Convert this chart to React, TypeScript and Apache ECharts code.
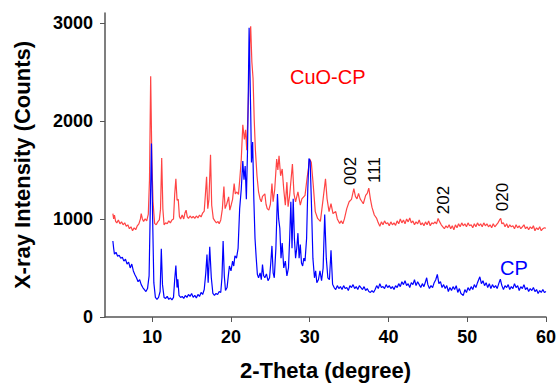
import React, { useEffect, useRef } from "react";
import * as echarts from "echarts";

const xTicks = [10, 20, 30, 40, 50, 60];
const yTicks = [0, 1000, 2000, 3000];

const cpData: [number, number][] = [
  [5.0,775],[5.1,700],[5.2,640],[5.4,660],[5.6,620],[5.8,630],[6.0,600],[6.2,610],[6.4,570],[6.6,590],[6.8,540],[7.0,560],[7.2,500],[7.4,540],[7.6,470],[7.8,430],[8.0,400],[8.2,360],[8.4,380],[8.6,330],[8.8,300],[9.0,280],[9.2,260],[9.4,290],[9.6,420],[9.75,1100],[9.9,1770],[10.05,1000],[10.2,350],[10.4,200],[10.6,180],[10.8,200],[11.0,260],[11.15,695],[11.3,330],[11.5,200],[11.7,190],[11.9,210],[12.1,180],[12.3,195],[12.5,175],[12.7,200],[12.85,380],[13.0,525],[13.15,300],[13.25,385],[13.4,220],[13.6,200],[13.8,210],[14.0,190],[14.2,220],[14.4,200],[14.6,230],[14.8,210],[15.0,240],[15.2,200],[15.4,220],[15.6,195],[15.8,230],[16.0,210],[16.2,250],[16.4,230],[16.6,280],[16.8,450],[16.95,637],[17.1,350],[17.3,715],[17.5,400],[17.7,240],[17.9,220],[18.1,240],[18.3,230],[18.5,260],[18.7,250],[18.85,400],[19.0,775],[19.15,420],[19.3,270],[19.5,300],[19.7,450],[19.8,520],[20.0,470],[20.2,570],[20.35,520],[20.5,625],[20.7,600],[20.9,700],[21.1,1105],[21.3,1300],[21.5,1590],[21.65,1400],[21.8,1540],[21.95,1200],[22.1,1700],[22.3,2950],[22.5,2100],[22.6,1575],[22.75,1785],[22.9,1200],[23.05,800],[23.2,605],[23.35,435],[23.5,400],[23.7,450],[23.85,380],[24.0,535],[24.15,420],[24.3,400],[24.5,440],[24.7,370],[24.9,400],[25.05,550],[25.2,725],[25.35,450],[25.5,400],[25.7,700],[25.9,1255],[26.05,1000],[26.2,905],[26.35,600],[26.5,755],[26.7,500],[26.9,570],[27.1,420],[27.3,500],[27.45,800],[27.6,1175],[27.75,700],[27.9,1205],[28.05,800],[28.2,600],[28.35,700],[28.5,855],[28.65,600],[28.8,740],[28.95,550],[29.1,520],[29.25,600],[29.4,570],[29.6,800],[29.75,1300],[29.9,1615],[30.05,1590],[30.2,1200],[30.4,600],[30.6,400],[30.75,470],[30.9,350],[31.1,380],[31.3,470],[31.5,370],[31.7,500],[31.9,1045],[32.1,600],[32.3,400],[32.5,380],[32.7,680],[32.9,335],[33.1,300],[33.3,280],[33.5,320],[33.7,290],[33.9,310],[34.1,280],[34.3,320],[34.5,290],[34.7,300],[34.9,270],[35.1,320],[35.3,300],[35.5,330],[35.7,290],[35.9,310],[36.1,280],[36.3,320],[36.5,300],[36.7,280],[36.9,310],[37.1,270],[37.3,290],[37.5,260],[37.7,250],[37.9,270],[38.1,250],[38.3,280],[38.5,320],[38.7,290],[38.9,340],[39.1,300],[39.3,310],[39.5,290],[39.7,330],[39.9,300],[40.1,320],[40.3,290],[40.5,310],[40.7,280],[40.9,320],[41.1,300],[41.3,340],[41.5,310],[41.7,360],[41.9,330],[42.1,370],[42.3,320],[42.5,340],[42.7,300],[42.9,350],[43.1,330],[43.3,380],[43.5,320],[43.7,360],[43.9,330],[44.1,300],[44.3,340],[44.5,310],[44.7,360],[44.85,400],[45.0,330],[45.2,290],[45.4,320],[45.6,300],[45.8,350],[46.0,380],[46.2,435],[46.4,340],[46.6,360],[46.8,300],[47.0,330],[47.2,290],[47.4,320],[47.6,260],[47.8,300],[48.0,270],[48.2,310],[48.4,280],[48.6,320],[48.8,250],[49.0,290],[49.2,240],[49.5,220],[49.7,280],[49.9,250],[50.1,300],[50.3,270],[50.5,310],[50.7,280],[50.9,330],[51.1,300],[51.3,350],[51.6,410],[51.8,340],[52.0,370],[52.2,320],[52.4,350],[52.6,300],[52.8,340],[53.0,290],[53.2,330],[53.4,300],[53.6,320],[53.8,290],[54.0,340],[54.2,385],[54.4,320],[54.6,280],[54.8,320],[55.0,300],[55.2,330],[55.4,280],[55.6,310],[55.8,290],[56.0,340],[56.2,300],[56.4,320],[56.6,270],[56.8,310],[57.0,290],[57.2,330],[57.4,280],[57.6,300],[57.8,260],[58.0,290],[58.2,270],[58.4,300],[58.6,260],[58.8,280],[59.0,240],[59.2,270],[59.4,250],[59.6,280],[59.8,250],[60.0,260]
];

const cuoData: [number, number][] = [
  [5.0,1055],[5.1,1000],[5.2,1040],[5.35,975],[5.5,960],[5.7,990],[5.9,950],[6.1,970],[6.3,940],[6.5,960],[6.7,925],[6.9,940],[7.1,900],[7.3,920],[7.5,880],[7.7,910],[7.9,890],[8.1,930],[8.3,950],[8.5,1000],[8.6,1055],[8.75,1000],[8.9,975],[9.1,1000],[9.3,980],[9.5,1050],[9.65,1400],[9.8,2455],[9.95,1600],[10.1,1175],[10.3,955],[10.5,940],[10.7,970],[10.9,990],[11.05,1100],[11.2,1620],[11.35,1100],[11.5,940],[11.7,960],[11.9,950],[12.1,980],[12.3,960],[12.5,990],[12.7,1000],[12.85,1250],[13.0,1410],[13.15,1190],[13.3,1200],[13.45,1025],[13.6,1000],[13.8,1040],[14.0,1000],[14.15,1060],[14.3,1090],[14.45,1020],[14.6,1005],[14.8,1030],[15.0,1010],[15.2,1025],[15.4,1005],[15.6,1030],[15.8,1010],[16.0,1040],[16.2,1020],[16.4,1060],[16.6,1080],[16.75,1250],[16.9,1430],[17.05,1105],[17.2,1200],[17.4,1655],[17.55,1140],[17.75,1005],[17.95,980],[18.15,960],[18.35,975],[18.5,950],[18.7,990],[18.9,1100],[19.1,1330],[19.25,1105],[19.45,1150],[19.7,1225],[19.85,1090],[20.05,1150],[20.2,1200],[20.4,1360],[20.55,1255],[20.75,1275],[20.95,1250],[21.1,1390],[21.3,1600],[21.5,1960],[21.7,1810],[21.85,1910],[22.0,1700],[22.2,2200],[22.4,2800],[22.5,2965],[22.65,2600],[22.8,2435],[22.95,2010],[23.1,1700],[23.3,1440],[23.5,1275],[23.7,1200],[23.85,1175],[24.0,1230],[24.3,1255],[24.45,1150],[24.6,1105],[24.8,1090],[25.0,1150],[25.2,1360],[25.35,1175],[25.55,1300],[25.8,1610],[25.95,1500],[26.1,1645],[26.3,1440],[26.5,1510],[26.7,1300],[26.9,1140],[27.1,1375],[27.25,1125],[27.45,1240],[27.8,1560],[28.0,1255],[28.2,1175],[28.5,1275],[28.8,1140],[29.0,1205],[29.4,1240],[29.65,1410],[30.0,1610],[30.2,1575],[30.45,1340],[30.7,1075],[31.0,1005],[31.35,975],[31.7,1205],[32.0,1410],[32.2,1205],[32.45,1075],[32.7,1155],[32.95,1055],[33.3,1075],[33.5,1000],[33.8,955],[34.0,980],[34.2,950],[34.4,1000],[34.7,1105],[35.0,1175],[35.3,1200],[35.6,1310],[35.8,1230],[36.0,1205],[36.2,1260],[36.4,1205],[36.6,1180],[36.8,1155],[37.1,1240],[37.3,1260],[37.5,1315],[37.7,1205],[37.9,1120],[38.2,1040],[38.5,1005],[38.7,960],[38.9,925],[39.1,970],[39.3,940],[39.5,980],[39.7,950],[39.9,960],[40.1,930],[40.3,970],[40.5,940],[40.7,960],[40.9,935],[41.1,980],[41.3,950],[41.5,1000],[41.7,960],[41.9,990],[42.1,950],[42.3,1000],[42.5,970],[42.7,1010],[42.9,960],[43.1,980],[43.3,940],[43.5,970],[43.7,950],[43.9,990],[44.1,940],[44.3,960],[44.5,930],[44.7,970],[44.9,940],[45.1,980],[45.3,930],[45.5,960],[45.7,950],[45.9,970],[46.1,950],[46.3,1005],[46.5,970],[46.7,940],[46.9,920],[47.1,900],[47.3,930],[47.5,910],[47.7,940],[47.9,900],[48.1,930],[48.3,890],[48.5,940],[48.7,910],[48.9,950],[49.1,920],[49.3,960],[49.5,930],[49.7,950],[49.9,920],[50.1,960],[50.3,930],[50.5,940],[50.7,910],[50.9,950],[51.1,920],[51.3,960],[51.5,930],[51.7,950],[51.9,920],[52.1,960],[52.3,930],[52.5,950],[52.7,920],[52.9,940],[53.1,910],[53.3,950],[53.5,920],[53.7,940],[53.9,960],[54.1,990],[54.25,1005],[54.4,950],[54.6,960],[54.8,920],[55.0,950],[55.2,910],[55.4,940],[55.6,920],[55.8,930],[56.0,900],[56.2,940],[56.4,910],[56.6,930],[56.8,900],[57.0,920],[57.2,940],[57.4,900],[57.6,920],[57.8,890],[58.0,920],[58.2,900],[58.4,930],[58.6,880],[58.8,910],[59.0,890],[59.2,920],[59.4,880],[59.6,900],[59.8,910],[60.0,905]
];

const FONT = "'Liberation Sans', Arial, sans-serif";

export default function App() {
  const ref = useRef<HTMLDivElement>(null);
  useEffect(() => {
    if (!ref.current) return;
    const chart = echarts.init(ref.current, undefined, { renderer: "svg" });
    const axisColor = "#555";
    const rot = (text: string, x: number, y: number) => ({
      type: "text",
      x,
      y,
      rotation: Math.PI / 2,
      style: { text, fill: "#000", fontSize: 17, fontFamily: FONT, align: "center", verticalAlign: "middle" },
    });
    chart.setOption({
      animation: false,
      backgroundColor: "#fff",
      grid: { left: 105, right: 13, top: 13, bottom: 66, containLabel: false },
      xAxis: {
        type: "value",
        min: 4,
        max: 60,
        name: "2-Theta (degree)",
        nameLocation: "middle",
        nameGap: 42,
        nameTextStyle: { fontFamily: FONT, fontSize: 22, fontWeight: "bold", color: "#000" },
        axisLine: { show: true, onZero: false, lineStyle: { color: axisColor, width: 1.5 } },
        axisTick: { show: true, customValues: xTicks, length: 5, lineStyle: { color: axisColor } },
        axisLabel: { customValues: xTicks, margin: 11, fontFamily: FONT, fontSize: 18, fontWeight: "bold", color: "#000", formatter: (v: number) => String(v) },
        splitLine: { show: false },
      },
      yAxis: {
        type: "value",
        min: 0,
        max: 3100,
        name: "X-ray Intensity (Counts)",
        nameLocation: "middle",
        nameGap: 72,
        nameTextStyle: { fontFamily: FONT, fontSize: 22, fontWeight: "bold", color: "#000" },
        axisLine: { show: true, lineStyle: { color: axisColor, width: 1.5 } },
        axisTick: { show: true, customValues: yTicks, length: 5, lineStyle: { color: axisColor } },
        axisLabel: { customValues: yTicks, margin: 12, fontFamily: FONT, fontSize: 18, fontWeight: "bold", color: "#000", formatter: (v: number) => String(v) },
        splitLine: { show: false },
      },
      series: [
        {
          name: "CuO-CP",
          type: "line",
          data: cuoData,
          showSymbol: false,
          lineStyle: { color: "#ff4444", width: 1.2 },
          z: 2,
        },
        {
          name: "CP",
          type: "line",
          data: cpData,
          showSymbol: false,
          lineStyle: { color: "#0000ff", width: 1.2 },
          z: 3,
        },
      ],
      graphic: [
        { type: "text", x: 290, y: 77, style: { text: "CuO-CP", fill: "#ff0000", fontSize: 20, fontFamily: FONT, align: "left", verticalAlign: "middle" } },
        { type: "text", x: 500, y: 268, style: { text: "CP", fill: "#0000ff", fontSize: 20, fontFamily: FONT, align: "left", verticalAlign: "middle" } },
        rot("002", 350, 171),
        rot("111", 374, 170),
        rot("202", 443, 200),
        rot("020", 502, 197),
      ],
    });
    return () => chart.dispose();
  }, []);
  return (
    <div
      ref={ref}
      style={{ position: "absolute", left: 0, top: 0, width: 559, height: 386 }}
    />
  );
}
